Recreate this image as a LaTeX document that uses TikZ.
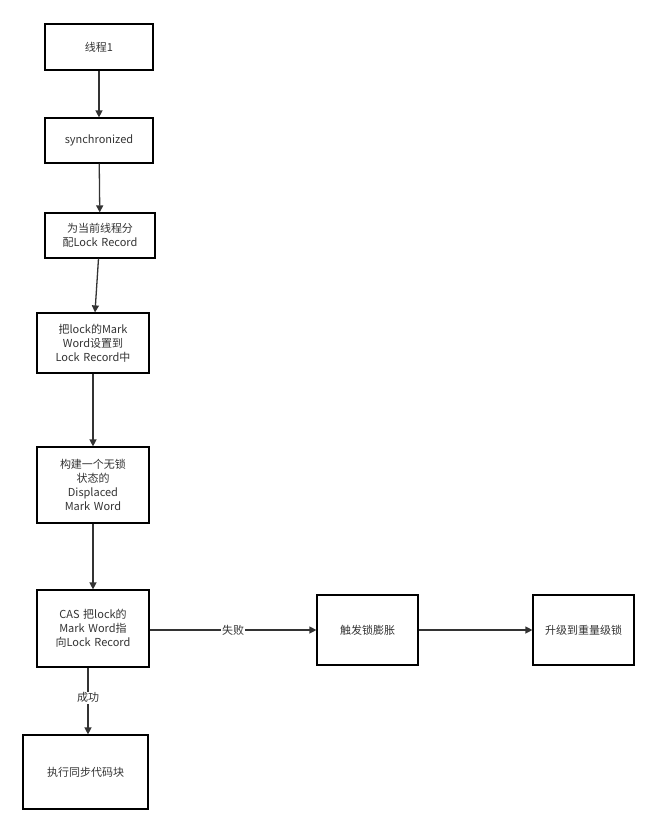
\documentclass[tikz,border=0pt]{standalone}
\usepackage{fontspec}
\setmainfont{Noto Sans CJK SC}
\usetikzlibrary{arrows.meta}
\definecolor{ln}{HTML}{333333}
\tikzset{
  box/.style={draw=black,line width=1.2pt,align=center,font=\fontsize{11}{14}\selectfont,text=ln,inner sep=2pt},
  conn/.style={draw=ln,line width=1.3pt,-{Triangle[length=7pt,width=7pt]}},
  lbl/.style={fill=white,font=\fontsize{11}{13}\selectfont,text=ln,inner sep=1pt}
}
\begin{document}
\begin{tikzpicture}[x=1pt,y=-1pt]
\useasboundingbox (0,0) rectangle (670,833);
\node[box,minimum width=108pt,minimum height=46pt] (a) at (99,47) {线程1};
\node[box,minimum width=108pt,minimum height=45pt] (b) at (99,140.5) {synchronized};
\node[box,minimum width=110pt,minimum height=45pt,text width=100pt] (c) at (100,235.5) {为当前线程分\\配Lock Record};
\node[box,minimum width=112pt,minimum height=60pt,text width=100pt] (d) at (93,343) {把lock的Mark\\Word设置到\\Lock Record中};
\node[box,minimum width=112pt,minimum height=76pt,text width=100pt] (e) at (93,485) {构建一个无锁\\状态的\\Displaced\\Mark Word};
\node[box,minimum width=112pt,minimum height=77pt,text width=100pt] (f) at (93,628.5) {CAS 把lock的\\Mark Word指\\向Lock Record};
\node[box,minimum width=125pt,minimum height=74pt] (g) at (85.5,772) {执行同步代码块};
\node[box,minimum width=101pt,minimum height=70pt] (h) at (367.5,630) {触发锁膨胀};
\node[box,minimum width=101pt,minimum height=70pt] (i) at (583.5,630) {升级到重量级锁};
\draw[conn] (a) -- (b);
\draw[conn] (b) -- (c);
\draw[conn] (c) -- (d);
\draw[conn] (d) -- (e);
\draw[conn] (e) -- (f);
\draw[conn] (f.south -| 88,0) -- node[lbl,pos=0.45]{成功} (g.north -| 88,0);
\draw[conn] (f.east |- h.west) -- node[lbl,pos=0.5]{失败} (h.west);
\draw[conn] (h) -- (i);
\end{tikzpicture}
\end{document}
